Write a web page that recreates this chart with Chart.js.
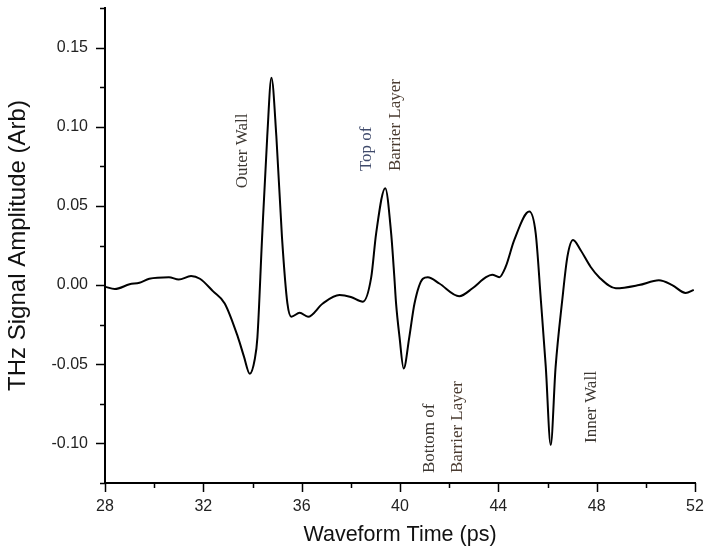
<!DOCTYPE html>
<html>
<head>
<meta charset="utf-8">
<script src="https://cdn.jsdelivr.net/npm/chart.js@4/dist/chart.umd.min.js"></script>
<style>
  html, body { margin: 0; padding: 0; background: #fff; }
  #wrap { width: 704px; height: 551px; }
</style>
</head>
<body>
<div id="wrap"><canvas id="myChart" width="704" height="551"></canvas></div>
<script>
// waveform (time in ps, amplitude in arb. units)
const time = [
  28.0, 28.4, 29.0, 29.4, 29.8, 30.6, 31.0, 31.5, 31.86, 32.4,
  32.87, 33.41, 33.65, 33.89, 34.09, 34.2, 34.39, 34.6, 34.77, 34.97,
  35.2, 35.42, 35.58, 35.92, 36.26, 36.86, 37.54, 38.0, 38.49, 38.83,
  39.03, 39.4, 39.64, 39.77, 39.84, 39.98, 40.15, 40.38, 40.59, 40.93,
  41.13, 41.6, 42.41, 42.95, 43.5, 43.75, 44.04, 44.3, 44.65, 45.26,
  45.52, 45.73, 45.93, 46.13, 46.33, 46.6, 46.81, 47.04, 47.35, 47.75,
  48.1, 48.78, 49.72, 50.53, 51.07, 51.62, 51.95
];
const amplitude = [
  -0.001, -0.0025, 0.0005, 0.0015, 0.004, 0.005, 0.0035, 0.0057, 0.004, -0.004,
  -0.0116, -0.033, -0.045, -0.056, -0.047, -0.033, 0.03, 0.094, 0.131, 0.094,
  0.03, -0.0116, -0.020, -0.0175, -0.020, -0.0116, -0.0063, -0.0075, -0.0105, 0.005,
  0.0327, 0.0612, 0.0327, 0.005, -0.0116, -0.0327, -0.0527, -0.0327, -0.0116, 0.004,
  0.005, 0.001, -0.007, -0.002, 0.005, 0.0065, 0.005, 0.0116, 0.0285, 0.0464,
  0.0327, -0.0095, -0.0517, -0.101, -0.0517, -0.0095, 0.018, 0.0285, 0.022, 0.0116,
  0.005, -0.002, 0.000, 0.003, 0.000, -0.005, -0.003
];

// annotation labels: text, time (baseline), amplitude (start of text)
const noteText = ['Outer Wall', 'Top of', 'Barrier Layer', 'Bottom of', 'Barrier Layer', 'Inner Wall'];
const noteTime = [33.78, 38.82, 40.0, 41.38, 42.52, 47.98];
const noteAmp = [0.0612, 0.072, 0.072, -0.1187, -0.1187, -0.0997];
const noteColor = ['#3b3631', '#3f4a6b', '#4a3b30', '#3b3631', '#4a3b30', '#3b3631'];

const isMultiple = (v, step) => Math.abs(v / step - Math.round(v / step)) < 1e-6;

// tick marks drawn outward, long on labelled values, short between
const tickMarks = {
  id: 'tickMarks',
  afterDraw(chart) {
    const { ctx, scales: { x, y }, chartArea } = chart;
    ctx.save();
    ctx.strokeStyle = '#000';
    ctx.lineWidth = 1.5;
    ctx.beginPath();
    x.ticks.forEach(t => {
      const px = Math.round(x.getPixelForValue(t.value)) + 0.5;
      const len = isMultiple(t.value, 4) ? 9 : 5;
      ctx.moveTo(px, chartArea.bottom);
      ctx.lineTo(px, chartArea.bottom + len);
    });
    y.ticks.forEach(t => {
      const py = Math.round(y.getPixelForValue(t.value)) + 0.5;
      const len = isMultiple(t.value, 0.05) ? 9 : 5;
      ctx.moveTo(chartArea.left, py);
      ctx.lineTo(chartArea.left - len, py);
    });
    ctx.stroke();
    ctx.restore();
  }
};

const notes = {
  id: 'notes',
  afterDatasetsDraw(chart) {
    const { ctx, scales: { x, y } } = chart;
    ctx.save();
    ctx.font = '17px "Liberation Serif", "DejaVu Serif", serif';
    ctx.textAlign = 'left';
    ctx.textBaseline = 'alphabetic';
    noteText.forEach((txt, i) => {
      ctx.save();
      ctx.translate(x.getPixelForValue(noteTime[i]), y.getPixelForValue(noteAmp[i]));
      ctx.rotate(-Math.PI / 2);
      ctx.fillStyle = noteColor[i];
      ctx.fillText(txt, 0, 0);
      ctx.restore();
    });
    ctx.restore();
  }
};

const noPad = s => {
  s.paddingTop = 0;
  s.paddingBottom = 0;
  s.paddingLeft = 0;
  s.paddingRight = 0;
};

const main = () => {
  const ctx = document.getElementById('myChart').getContext('2d');

  const points = time.map((t, i) => ({ x: t, y: amplitude[i] }));

  const config = {
    type: 'line',
    data: {
      datasets: [
        {
          label: 'THz signal',
          data: points,
          borderColor: '#000',
          borderWidth: 2,
          radius: 0,
          cubicInterpolationMode: 'monotone',
          fill: false,
        },
      ],
    },
    options: {
      responsive: false,
      animation: false,
      devicePixelRatio: 1,
      layout: { padding: { top: 8, right: 9, left: 0, bottom: 0 } },
      plugins: {
        legend: { display: false },
        tooltip: { enabled: false },
      },
      scales: {
        x: {
          type: 'linear',
          min: 28,
          max: 52,
          afterFit: s => { s.height = 68; noPad(s); },
          grid: { display: true, drawOnChartArea: false, drawTicks: false },
          border: { display: true, color: '#000', width: 2 },
          ticks: {
            stepSize: 2,
            padding: 14,
            maxRotation: 0,
            autoSkip: false,
            color: '#222',
            font: { family: 'Arial, "Liberation Sans", sans-serif', size: 16 },
            callback: v => (isMultiple(v, 4) ? String(Math.round(v)) : ''),
          },
          title: {
            display: true,
            text: 'Waveform Time (ps)',
            color: '#111',
            font: { family: 'Arial, "Liberation Sans", sans-serif', size: 21.5 },
            padding: { top: 0, bottom: 3 },
          },
        },
        y: {
          type: 'linear',
          min: -0.125,
          max: 0.175,
          afterFit: s => { s.width = 105; noPad(s); },
          grid: { display: true, drawOnChartArea: false, drawTicks: false },
          border: { display: true, color: '#000', width: 2 },
          ticks: {
            stepSize: 0.025,
            padding: 17,
            autoSkip: false,
            color: '#222',
            font: { family: 'Arial, "Liberation Sans", sans-serif', size: 16 },
            callback: v => {
              if (!isMultiple(v, 0.05) || v < -0.11 || v > 0.16) return '';
              return (Math.abs(v) < 1e-9 ? 0 : v).toFixed(2);
            },
          },
          title: {
            display: true,
            text: 'THz Signal Amplitude (Arb)',
            color: '#111',
            font: { family: 'Arial, "Liberation Sans", sans-serif', size: 24 },
            padding: { top: 4, bottom: 0 },
          },
        },
      },
    },
    plugins: [tickMarks, notes],
  };

  const myChart = new Chart(ctx, config);
};

main();
</script>
</body>
</html>
